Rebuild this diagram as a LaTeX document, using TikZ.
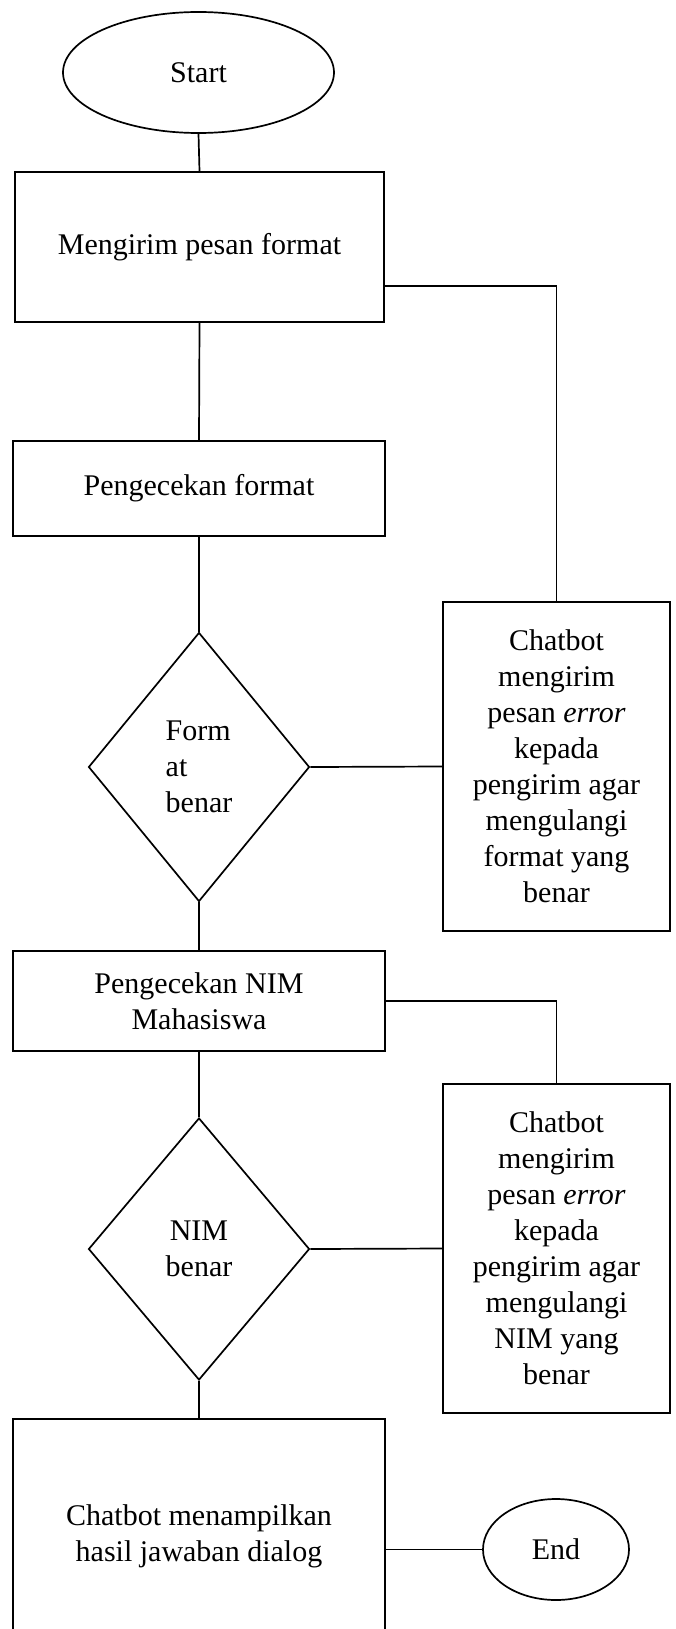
\documentclass[tikz,border=0pt]{standalone}
\usepackage{fontspec}
\setmainfont{Liberation Serif}
\usetikzlibrary{shapes.geometric}
\begin{document}
\begin{tikzpicture}[x=1pt,y=-1pt,
  every node/.style={font=\fontsize{30}{36}\selectfont},
  flow/.style={line width=1.7pt},
  box/.style={draw, line width=1.7pt, rectangle, inner sep=0pt, align=center},
  term/.style={draw, ellipse, line width=1.7pt, inner sep=0pt},
  decision/.style={draw, diamond, line width=1.7pt, inner sep=0pt}]
\useasboundingbox (0,0) rectangle (676,1629);
\clip (0,0) rectangle (676,1629);

% main column
\node[term, minimum width=271pt, minimum height=121pt] (start) at (198.5,72.5) {Start};
\node[box, minimum width=369pt, minimum height=150pt] (send) at (199.5,247) {Mengirim pesan format};
\node[box, minimum width=372pt, minimum height=95pt] (chkfmt) at (199,488.5) {Pengecekan format};
\node[decision, minimum width=221pt, minimum height=269pt,
      label={[align=left]center:Form\\at\\benar}] (fmtok) at (199,767) {};
\node[box, minimum width=372pt, minimum height=100pt] (chknim) at (199,1001) {Pengecekan NIM\\Mahasiswa};
\node[decision, minimum width=221pt, minimum height=262pt,
      label={[align=center]center:NIM\\benar}] (nimok) at (199,1249) {};
\node[box, minimum width=372pt, minimum height=234pt] (show) at (199,1536) {Chatbot menampilkan\\hasil jawaban dialog};

% right column
\node[box, minimum width=227pt, minimum height=329pt] (err1) at (556.5,766.5)
  {Chatbot\\mengirim\\pesan \textit{error}\\kepada\\pengirim agar\\mengulangi\\format yang\\benar};
\node[box, minimum width=227pt, minimum height=329pt] (err2) at (556.5,1248.5)
  {Chatbot\\mengirim\\pesan \textit{error}\\kepada\\pengirim agar\\mengulangi\\NIM yang\\benar};
\node[term, minimum width=146pt, minimum height=101pt] (end) at (556,1549.5) {End};

% connectors
\draw[flow] (start.south) -- (send.north);
\draw[flow] (send.south) -- (chkfmt.north);
\draw[flow] (chkfmt.south) -- (fmtok.north);
\draw[flow] (fmtok.east) -- (err1.west);
\draw[flow] (err1.north) |- ([yshift=-39pt]send.east);
\draw[flow] (fmtok.south) -- (chknim.north);
\draw[flow] (chknim.east) -| (err2.north);
\draw[flow] (chknim.south) -- (nimok.north);
\draw[flow] (nimok.east) -- (err2.west);
\draw[flow] (nimok.south) -- (show.north);
\draw[flow] ([yshift=-13.5pt]show.east) -- (end.west);
\end{tikzpicture}
\end{document}
